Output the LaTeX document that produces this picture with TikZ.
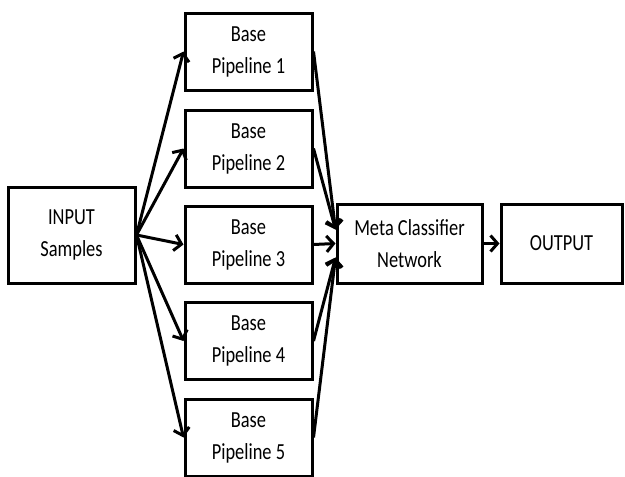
\documentclass[tikz,border=0pt]{standalone}
\usepackage{fontspec}
\setmainfont{Carlito}
\newfontfamily\cfont[FakeStretch=0.8]{Carlito}
\usetikzlibrary{arrows.meta}
\begin{document}
\begin{tikzpicture}[x=1pt,y=-1pt,
  box/.style={draw=black,line width=3pt,fill=white,align=center,inner sep=0pt,
    font=\cfont\fontsize{23}{32}\selectfont},
  arr/.style={line width=3pt,-{Straight Barb[length=7pt,width=16pt,line width=3pt]}}]
\useasboundingbox (0,0) rectangle (625,477);
\node[box,minimum width=127pt,minimum height=96pt] (in) at (71.5,235) {INPUT\\Samples};
\node[box,minimum width=127pt,minimum height=77pt] (p1) at (248.5,51.5) {Base\\Pipeline 1};
\node[box,minimum width=127pt,minimum height=77pt] (p2) at (248.5,148.5) {Base\\Pipeline 2};
\node[box,minimum width=127pt,minimum height=77pt] (p3) at (248.5,244.5) {Base\\Pipeline 3};
\node[box,minimum width=127pt,minimum height=77pt] (p4) at (248.5,341) {Base\\Pipeline 4};
\node[box,minimum width=127pt,minimum height=77pt] (p5) at (248.5,437.5) {Base\\Pipeline 5};
\node[box,minimum width=145pt,minimum height=79pt] (meta) at (409.5,243.5) {Meta Classifier\\Network};
\node[box,minimum width=121pt,minimum height=79pt] (out) at (561.5,243.5) {OUTPUT};
\coordinate (mt) at ([yshift=14pt]meta.west);
\coordinate (mm) at (meta.west);
\coordinate (mb) at ([yshift=-14pt]meta.west);
\foreach \p in {p1,p2,p3,p4,p5}{\draw[arr] (in.east) -- (\p.west);}
\draw[arr] (p1.east) -- (mt);
\draw[arr] (p2.east) -- (mt);
\draw[arr] (p3.east) -- (mm);
\draw[arr] (p4.east) -- (mb);
\draw[arr] (p5.east) -- (mb);
\draw[arr] (meta.east) -- (out.west);
\end{tikzpicture}
\end{document}
